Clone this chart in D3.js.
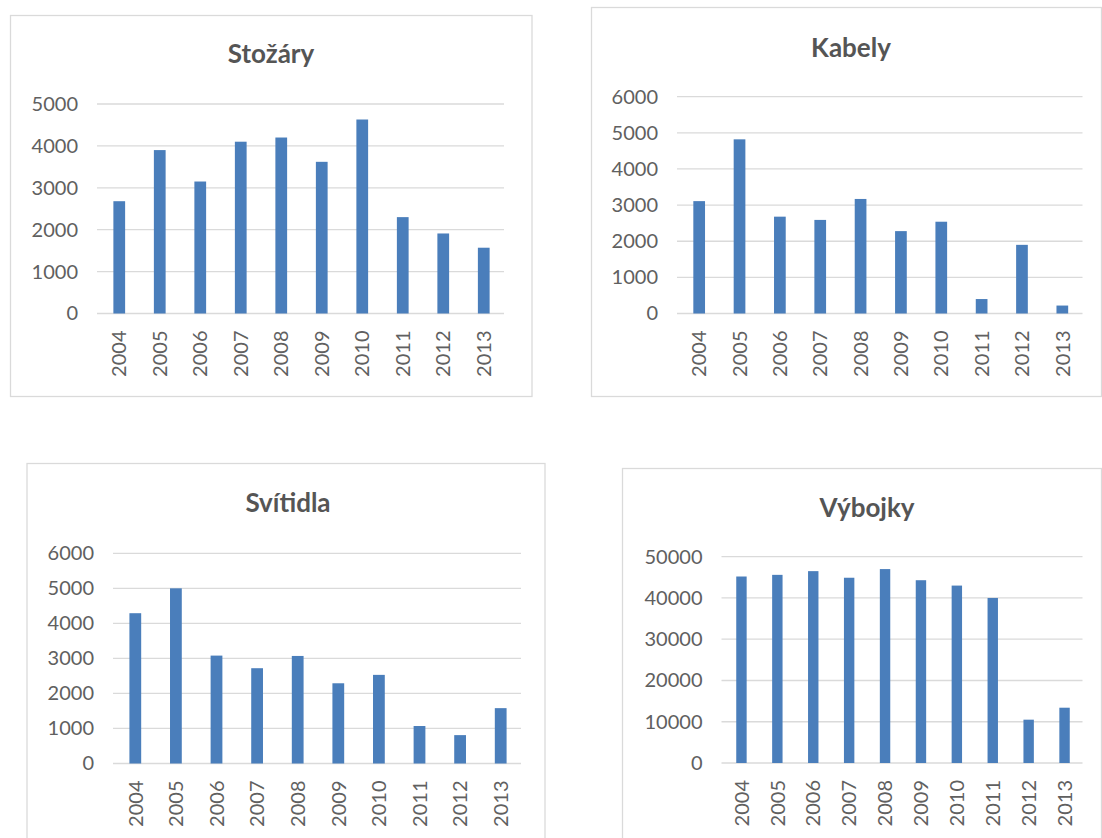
<!DOCTYPE html>
<html>
<head>
<meta charset="utf-8">
<script src="https://cdn.jsdelivr.net/npm/d3@7"></script>
<style>
	body { margin: 0; background: #fff; }
	svg { display: block; }
	text { font-family: Lato, "Open Sans", sans-serif; }
</style>
</head>
<body>
<div id="chart"></div>
<script>
// Data
const years = ["2004", "2005", "2006", "2007", "2008", "2009", "2010", "2011", "2012", "2013"];

const stozary = [2680, 3900, 3150, 4100, 4200, 3620, 4630, 2300, 1910, 1570];
const kabely = [3110, 4820, 2680, 2590, 3170, 2280, 2540, 400, 1900, 220];
const svitidla = [4290, 5000, 3080, 2720, 3070, 2290, 2530, 1070, 810, 1580];
const vybojky = [45200, 45600, 46500, 44900, 47000, 44300, 43000, 40000, 10500, 13400];

const ticks_5000 = [0, 1000, 2000, 3000, 4000, 5000];
const ticks_6000 = [0, 1000, 2000, 3000, 4000, 5000, 6000];
const ticks_50000 = [0, 10000, 20000, 30000, 40000, 50000];

const titles = ["Stožáry", "Kabely", "Svítidla", "Výbojky"];

const width = 1102, height = 838;
const barColor = "#4a7ebb";
const gridColor = "#dadada";
const labelColor = "#606060";

// Placement of each panel on the page
const panels = [
	{title: titles[0], values: stozary, ticks: ticks_5000,
		box: [10.5, 15.5, 532, 396.5], x: [99, 504], y: [313.5, 104], titleX: 271, titleY: 63},
	{title: titles[1], values: kabely, ticks: ticks_6000,
		box: [591.5, 7.5, 1101.5, 396.5], x: [679, 1082.5], y: [313.5, 96.7], titleX: 851, titleY: 57},
	{title: titles[2], values: svitidla, ticks: ticks_6000,
		box: [27, 463.5, 545, 900], x: [115, 521], y: [763.5, 553.3], titleX: 288, titleY: 512},
	{title: titles[3], values: vybojky, ticks: ticks_50000,
		box: [622.5, 468.5, 1101.5, 900], x: [723.5, 1082.5], y: [763, 556.7], titleX: 867, titleY: 517}
];

let svg = d3.select("#chart")
	.append("svg")
	.attr("width", width)
	.attr("height", height);

panels.forEach(function(p) {
	let g = svg.append("g");

	// chart frame
	g.append("rect")
		.attr("x", p.box[0])
		.attr("y", p.box[1])
		.attr("width", p.box[2] - p.box[0])
		.attr("height", p.box[3] - p.box[1])
		.attr("fill", "#fff")
		.attr("stroke", gridColor)
		.attr("stroke-width", 1.3);

	let x = d3.scaleBand()
		.domain(years)
		.range(p.x)
		.paddingInner(0.71)
		.paddingOuter(0.355);

	let y = d3.scaleLinear()
		.domain([0, d3.max(p.ticks)])
		.range(p.y);

	// gridlines
	g.selectAll("line.grid")
		.data(p.ticks)
		.enter()
		.append("line")
		.attr("class", "grid")
		.attr("x1", p.x[0] - 2)
		.attr("x2", p.x[1])
		.attr("y1", function(d) {return y(d)})
		.attr("y2", function(d) {return y(d)})
		.attr("stroke", gridColor)
		.attr("stroke-width", 1.3);

	// y axis labels
	let yAxis = g.append("g")
		.attr("transform", "translate(" + p.x[0] + ",0)")
		.call(d3.axisLeft(y).tickValues(p.ticks).tickSize(0).tickPadding(21).tickFormat(d3.format("d")));
	yAxis.select(".domain").remove();
	yAxis.selectAll("text")
		.attr("fill", labelColor)
		.style("font-size", "20px")
		.style("font-family", "Lato, sans-serif");

	// bars
	g.selectAll("rect.bar")
		.data(p.values)
		.enter()
		.append("rect")
		.attr("class", "bar")
		.attr("x", function(d, i) {return x(years[i])})
		.attr("y", function(d) {return y(d)})
		.attr("width", x.bandwidth())
		.attr("height", function(d) {return y(0) - y(d)})
		.attr("fill", barColor);

	// year labels, rotated
	let xAxis = g.append("g")
		.attr("transform", "translate(0," + y(0) + ")")
		.call(d3.axisBottom(x).tickSize(0).tickPadding(0));
	xAxis.select(".domain").remove();
	xAxis.selectAll("text")
		.attr("transform", "translate(0,17)rotate(-90)")
		.attr("x", 0)
		.attr("y", 0)
		.attr("dy", "0.36em")
		.style("text-anchor", "end")
		.attr("fill", labelColor)
		.style("font-size", "20px")
		.style("font-family", "Lato, sans-serif");

	// title
	g.append("text")
		.attr("x", p.titleX)
		.attr("y", p.titleY)
		.style("text-anchor", "middle")
		.style("font-size", "26px")
		.style("font-weight", "bold")
		.attr("fill", "#555")
		.text(p.title);
});
</script>
</body>
</html>
